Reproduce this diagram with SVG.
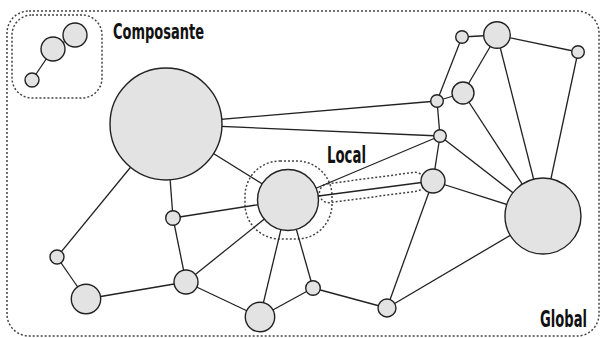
<svg xmlns="http://www.w3.org/2000/svg" width="600" height="338" viewBox="0 0 600 338">
<style>
.n{fill:#e3e3e3;stroke:#222;stroke-width:1.4}
.e line{stroke:#222;stroke-width:1.3}
.d{fill:none;stroke:#444;stroke-width:1.5;stroke-dasharray:2 2}
.t{font-family:"DejaVu Sans Condensed","Liberation Sans Narrow","Liberation Sans",sans-serif;font-weight:bold;fill:#111}
</style>
<rect width="600" height="338" fill="#fff"/>
<g id="regions">
<rect id="global" class="d" x="7" y="11" width="592" height="325" rx="22"/>
<rect id="composante" class="d" x="12" y="15" width="90" height="83" rx="20"/>
<rect id="local" class="d" x="245" y="161" width="87" height="78" rx="35"/>
<rect id="local-edge" class="d" x="319" y="178" width="106" height="19" rx="9.5" transform="rotate(-7.5 372 187.5)"/>
</g>
<g id="edges" class="e">
<line x1="75" y1="35" x2="53" y2="49"/>
<line x1="53" y1="49" x2="32" y2="80"/>
<line x1="166" y1="124" x2="437" y2="101"/>
<line x1="166" y1="124" x2="440" y2="136"/>
<line x1="166" y1="124" x2="288" y2="200"/>
<line x1="166" y1="124" x2="173" y2="218"/>
<line x1="166" y1="124" x2="57" y2="257"/>
<line x1="173" y1="218" x2="288" y2="200"/>
<line x1="173" y1="218" x2="186" y2="282"/>
<line x1="57" y1="257" x2="86" y2="299"/>
<line x1="86" y1="299" x2="186" y2="282"/>
<line x1="186" y1="282" x2="288" y2="200"/>
<line x1="186" y1="282" x2="260" y2="317"/>
<line x1="288" y1="200" x2="260" y2="317"/>
<line x1="288" y1="200" x2="313" y2="288"/>
<line x1="260" y1="317" x2="313" y2="288"/>
<line x1="313" y1="288" x2="387" y2="308"/>
<line x1="387" y1="308" x2="433" y2="181"/>
<line x1="387" y1="308" x2="543" y2="216"/>
<line x1="288" y1="200" x2="440" y2="136"/>
<line x1="288" y1="200" x2="433" y2="181"/>
<line x1="437" y1="101" x2="440" y2="136"/>
<line x1="440" y1="136" x2="433" y2="181"/>
<line x1="440" y1="136" x2="543" y2="216"/>
<line x1="433" y1="181" x2="543" y2="216"/>
<line x1="463" y1="93" x2="543" y2="216"/>
<line x1="497" y1="35" x2="543" y2="216"/>
<line x1="578" y1="52" x2="543" y2="216"/>
<line x1="437" y1="101" x2="463" y2="93"/>
<line x1="437" y1="101" x2="462" y2="37"/>
<line x1="462" y1="37" x2="497" y2="35"/>
<line x1="497" y1="35" x2="578" y2="52"/>
<line x1="497" y1="35" x2="463" y2="93"/>
</g>
<g id="nodes">
<circle id="c1" class="n" cx="75" cy="35" r="12"/>
<circle id="c2" class="n" cx="53" cy="49" r="12"/>
<circle id="c3" class="n" cx="32" cy="80" r="7"/>
<circle id="big" class="n" cx="166" cy="124" r="56"/>
<circle id="loc" class="n" cx="288" cy="200" r="30.5"/>
<circle id="n1" class="n" cx="462" cy="37" r="6.3"/>
<circle id="n2" class="n" cx="497" cy="35" r="13.3"/>
<circle id="n3" class="n" cx="578" cy="52" r="6.3"/>
<circle id="n4" class="n" cx="463" cy="93" r="11"/>
<circle id="n5" class="n" cx="437" cy="101" r="6.3"/>
<circle id="n6" class="n" cx="440" cy="136" r="6.3"/>
<circle id="n7" class="n" cx="433" cy="181" r="12"/>
<circle id="right" class="n" cx="543" cy="216" r="38"/>
<circle id="s1" class="n" cx="173" cy="218" r="7.3"/>
<circle id="s2" class="n" cx="57" cy="257" r="7"/>
<circle id="s3" class="n" cx="86" cy="299" r="14.7"/>
<circle id="s4" class="n" cx="186" cy="282" r="12"/>
<circle id="s5" class="n" cx="260" cy="317" r="14.7"/>
<circle id="s6" class="n" cx="313" cy="288" r="7.3"/>
<circle id="s7" class="n" cx="387" cy="308" r="9"/>
</g>
<g id="labels">
<text class="t" font-size="21" transform="translate(113 39) scale(0.69 1)" textLength="131.9" lengthAdjust="spacingAndGlyphs">Composante</text>
<text class="t" font-size="23" transform="translate(327 163) scale(0.64 1)" textLength="61" lengthAdjust="spacingAndGlyphs">Local</text>
<text class="t" font-size="23" transform="translate(540 327) scale(0.64 1)" textLength="73.4" lengthAdjust="spacingAndGlyphs">Global</text>
</g>
</svg>
